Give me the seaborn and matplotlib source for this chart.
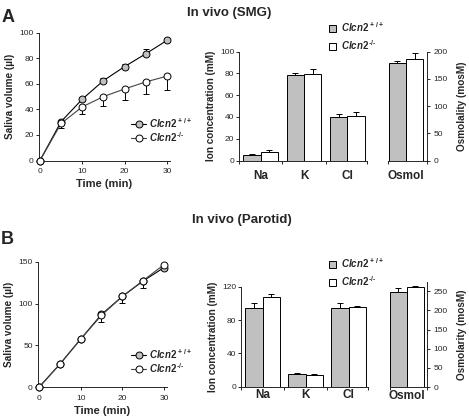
import numpy as np
import pandas as pd
import matplotlib
matplotlib.use('Agg')
import matplotlib.pyplot as plt
import seaborn as sns
from matplotlib.patches import Patch
from matplotlib.lines import Line2D

# collection time (min)
time = [0, 5, 10, 15, 20, 25, 30]

# A: SMG saliva volume (ul)
smg_wt = [0, 30.5, 48, 62.5, 73.5, 83.5, 94]
smg_wt_err = [0, 1.5, 2, 2, 2, 3.5, 2]
smg_ko = [0, 29, 42, 50, 56, 61.5, 66]
smg_ko_err = [0, 3.5, 6, 7.5, 8.5, 9.5, 10.5]

# B: parotid saliva volume (ul)
par_wt = [0, 27.5, 57.5, 87, 108.5, 127, 143]
par_wt_err = [0, 1.5, 2, 2, 2, 2.5, 3]
par_ko = [0, 27.5, 57.5, 86, 108.5, 127.5, 146.5]
par_ko_err = [0, 1, 2, 8, 8, 9, 7]

# ion concentrations (mM) and osmolality
ions = ['Na', 'K', 'Cl']
smg_ion_wt = [5.2, 78.5, 40]
smg_ion_wt_err = [0.5, 2, 2.5]
smg_ion_ko = [7.7, 79.5, 41]
smg_ion_ko_err = [1.8, 4.5, 3.5]
smg_osm = [178.5, 186.5]
smg_osm_err = [4, 11.5]

par_ion_wt = [95, 15, 94.5]
par_ion_wt_err = [5.5, 1, 6]
par_ion_ko = [108, 14, 95.5]
par_ion_ko_err = [3, 1, 1.5]
par_osm = [248, 262]
par_osm_err = [10, 3]

wt_label = r'$Clcn2^{\,+/+}$'
ko_label = r'$Clcn2^{\,\text{-/-}}$'
gray = '#c0c0c0'

sns.set_style('ticks')
plt.rcParams['font.family'] = ['Liberation Sans', 'DejaVu Sans']
plt.rcParams['mathtext.fontset'] = 'custom'
plt.rcParams['mathtext.it'] = 'Liberation Sans:italic:bold'
plt.rcParams['mathtext.rm'] = 'Liberation Sans:bold'
plt.rcParams['mathtext.default'] = 'it'
plt.rcParams['axes.linewidth'] = 0.7

W, H = 469, 420
fig = plt.figure(figsize=(W / 100, H / 100), dpi=100)


def box(l, t, r, b):
    return fig.add_axes([l / W, 1 - b / H, (r - l) / W, (b - t) / H])


def style_y(ax):
    ax.tick_params(axis='y', length=2.5, width=0.7, pad=1, labelsize=6)


def volume_panel(ax, wt, wt_err, ko, ko_err, ymax, yticks, legend_top):
    ax.errorbar(time, wt, yerr=[np.zeros(7), wt_err], fmt='none', ecolor='black',
                elinewidth=0.7, capsize=2.5, capthick=0.7, zorder=2)
    ax.errorbar(time, ko, yerr=[ko_err, np.zeros(7)], fmt='none', ecolor='black',
                elinewidth=0.7, capsize=2.5, capthick=0.7, zorder=2)
    sns.lineplot(x=time, y=wt, ax=ax, color='black', lw=0.8, marker='o', markersize=5,
                 markerfacecolor=gray, markeredgecolor='black', markeredgewidth=0.7,
                 clip_on=False, zorder=3)
    sns.lineplot(x=time, y=ko, ax=ax, color='#444444', lw=0.8, marker='o', markersize=5,
                 markerfacecolor='white', markeredgecolor='black', markeredgewidth=0.7,
                 clip_on=False, zorder=4)
    ax.set_xlim(-0.3, 30.6)
    ax.set_ylim(0, ymax)
    ax.set_xticks([0, 10, 20, 30])
    ax.set_yticks(yticks)
    ax.tick_params(axis='x', length=2.5, width=0.7, pad=3, labelsize=6)
    style_y(ax)
    ax.set_xlabel('Time (min)', fontsize=8, fontweight='bold', labelpad=3)
    ax.set_ylabel('Saliva volume (\u00b5l)', fontsize=7.2, fontweight='bold', labelpad=3)
    sns.despine(ax=ax)
    handles = [Line2D([], [], color='black', lw=0.8, marker='o', ms=5, mfc=gray, mec='black', mew=0.7),
               Line2D([], [], color='#444444', lw=0.8, marker='o', ms=5, mfc='white', mec='black', mew=0.7)]
    ax.legend(handles, [wt_label, ko_label], loc='upper left', bbox_to_anchor=(131 / W, 1 - legend_top / H),
              bbox_transform=fig.transFigure, frameon=False, fontsize=7, handlelength=1.55,
              handletextpad=0.35, labelspacing=0.0, borderpad=0, borderaxespad=0)


def ion_panel(ax, wt, wt_err, ko, ko_err, ymax, yticks, label_pad, legend_top):
    df = pd.DataFrame({'ion': ions * 2, 'conc': wt + ko, 'geno': ['wt'] * 3 + ['ko'] * 3})
    sns.barplot(data=df, x='ion', y='conc', hue='geno', palette={'wt': gray, 'ko': 'white'},
                edgecolor='black', linewidth=0.7, width=0.8, errorbar=None, legend=False, ax=ax)
    pos = np.arange(3)
    ax.errorbar(pos - 0.2, wt, yerr=[np.zeros(3), wt_err], fmt='none', ecolor='black',
                elinewidth=0.7, capsize=2.5, capthick=0.7)
    ax.errorbar(pos + 0.2, ko, yerr=[np.zeros(3), ko_err], fmt='none', ecolor='black',
                elinewidth=0.7, capsize=2.5, capthick=0.7)
    ax.set_xlim(-0.5, 2.45)
    ax.set_ylim(0, ymax)
    ax.set_yticks(yticks)
    ax.set_xticks(pos)
    ax.set_xticklabels(ions, fontweight='bold')
    ax.set_xticks([-0.5, 0.5, 1.5, 2.45], minor=True)
    ax.tick_params(axis='x', which='major', length=0, pad=label_pad, labelsize=8.5)
    ax.tick_params(axis='x', which='minor', length=2.5, width=0.7)
    style_y(ax)
    ax.set_xlabel('')
    ax.set_ylabel('Ion concentration (mM)', fontsize=7.2, fontweight='bold', labelpad=3)
    sns.despine(ax=ax)
    handles = [Patch(facecolor=gray, edgecolor='black', lw=0.7),
               Patch(facecolor='white', edgecolor='black', lw=0.7)]
    ax.legend(handles, [wt_label, ko_label], loc='upper left', bbox_to_anchor=(329 / W, 1 - legend_top / H),
              bbox_transform=fig.transFigure, frameon=False, fontsize=7, handlelength=0.7,
              handleheight=0.7, handletextpad=0.5, labelspacing=0.45, borderpad=0, borderaxespad=0)


def osmol_panel(ax, vals, errs, ymax, yticks, xlim, label_pad, ylabel):
    df = pd.DataFrame({'ion': ['Osmol', 'Osmol'], 'conc': vals, 'geno': ['wt', 'ko']})
    sns.barplot(data=df, x='ion', y='conc', hue='geno', palette={'wt': gray, 'ko': 'white'},
                edgecolor='black', linewidth=0.7, width=0.8, errorbar=None, legend=False, ax=ax)
    ax.errorbar([-0.2, 0.2], vals, yerr=[[0, 0], errs], fmt='none', ecolor='black',
                elinewidth=0.7, capsize=2.5, capthick=0.7)
    ax.set_xlim(*xlim)
    ax.set_ylim(0, ymax)
    ax.set_yticks(yticks)
    ax.set_xticks([0])
    ax.set_xticklabels(['Osmol'], fontweight='bold')
    ax.set_xticks(list(xlim), minor=True)
    ax.tick_params(axis='x', which='major', length=0, pad=label_pad, labelsize=8.5)
    ax.tick_params(axis='x', which='minor', length=2.5, width=0.7)
    sns.despine(ax=ax, left=True, right=False)
    ax.yaxis.tick_right()
    ax.yaxis.set_label_position('right')
    style_y(ax)
    ax.tick_params(axis='y', pad=2)
    ax.set_xlabel('')
    ax.set_ylabel(ylabel, fontsize=7.2, fontweight='bold', labelpad=7)


# panel A
ax = box(38.7, 32.7, 169.5, 160.5)
volume_panel(ax, smg_wt, smg_wt_err, smg_ko, smg_ko_err, 100, [0, 20, 40, 60, 80, 100], 116)
ax = box(239, 51.7, 367, 160.5)
ion_panel(ax, smg_ion_wt, smg_ion_wt_err, smg_ion_ko, smg_ion_ko_err, 100, [0, 20, 40, 60, 80, 100], 7, 20)
ax = box(388, 51.7, 427, 160.5)
osmol_panel(ax, smg_osm, smg_osm_err, 200, [0, 50, 100, 150, 200], (-0.42, 0.49), 7, 'Osmolality (mosM)')

# panel B
ax = box(37.7, 261.7, 166.5, 387.3)
volume_panel(ax, par_wt, par_wt_err, par_ko, par_ko_err, 150, [0, 50, 100, 150], 347)
ax = box(241, 286.7, 368, 386.7)
ion_panel(ax, par_ion_wt, par_ion_wt_err, par_ion_ko, par_ion_ko_err, 120, [0, 40, 80, 120], 2, 256)
ax = box(390, 281.7, 427, 387)
osmol_panel(ax, par_osm, par_osm_err, 275, [0, 50, 100, 150, 200, 250], (-0.39, 0.47), 2, 'Osmolarity (mosM)')

fig.text(229 / W, 1 - 13 / H, 'In vivo (SMG)', ha='center', va='center', fontsize=9.5, fontweight='bold')
fig.text(242 / W, 1 - 220 / H, 'In vivo (Parotid)', ha='center', va='center', fontsize=9.5, fontweight='bold')
fig.text(8 / W, 1 - 17 / H, 'A', ha='center', va='center', fontsize=13, fontweight='bold')
fig.text(7 / W, 1 - 239 / H, 'B', ha='center', va='center', fontsize=13, fontweight='bold')

fig.savefig('out.png', dpi=100)
